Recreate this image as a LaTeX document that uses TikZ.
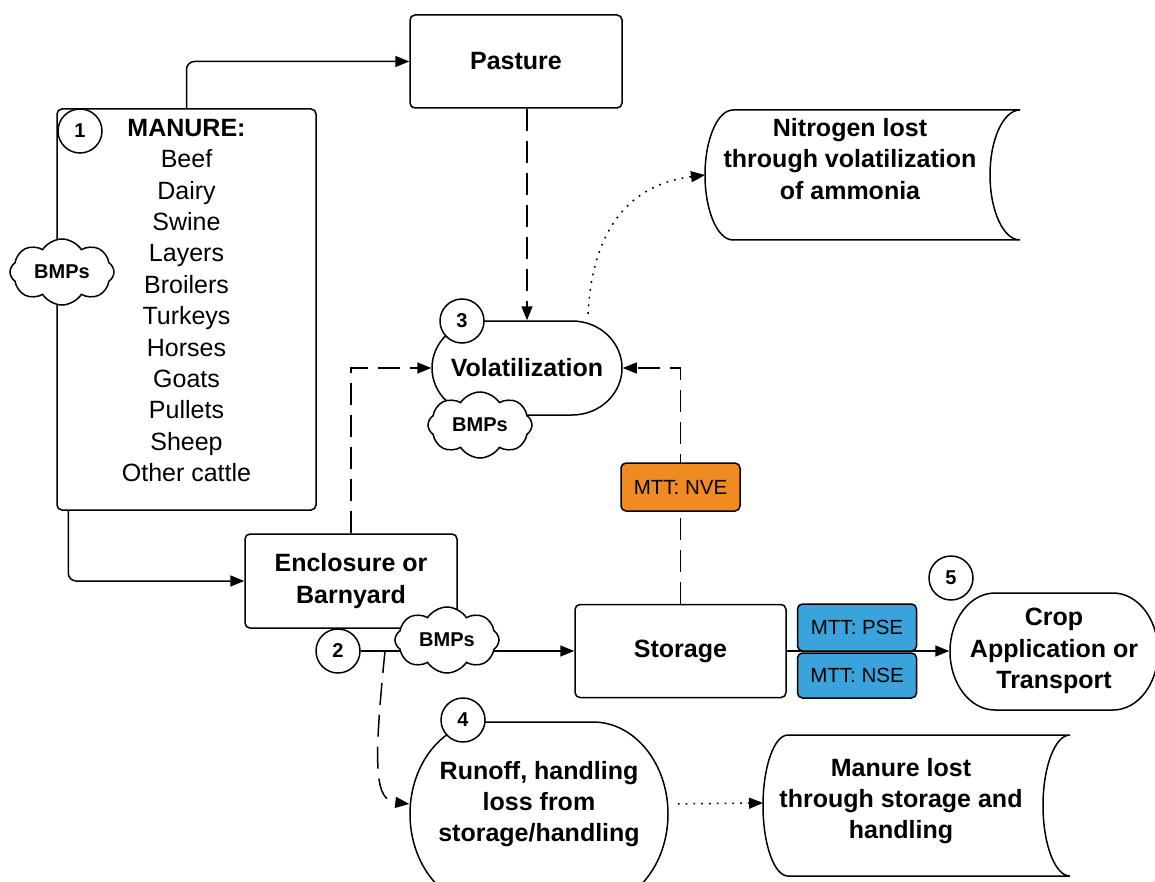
\documentclass[tikz,border=0pt]{standalone}
\usepackage{fontspec}
\setmainfont{Liberation Sans}
\usetikzlibrary{shapes.symbols,arrows.meta,calc,backgrounds}
\definecolor{mttorange}{RGB}{239,139,34}
\definecolor{mttblue}{RGB}{58,163,219}
\begin{document}
\begin{tikzpicture}[x=1pt,y=-1pt, line width=1.5pt,
  box/.style={draw, rounded corners=5pt, font=\bfseries\fontsize{25}{31.4}\selectfont, align=center, inner sep=0},
  lbl/.style={font=\bfseries\fontsize{25}{31.4}\selectfont, align=center, inner sep=0},
  num/.style={draw, circle, fill=white, minimum size=44pt, inner sep=0, font=\bfseries\fontsize{20}{24}\selectfont},
  bmp/.style={draw, cloud, cloud puffs=8, cloud puff arc=115, aspect=1.6, fill=white, inner sep=0, minimum width=104pt, minimum height=66pt, font=\bfseries\fontsize{20}{24}\selectfont},
  mtt/.style={draw, rounded corners=5pt, minimum width=119pt, inner sep=0, font=\fontsize{20.5}{24}\selectfont},
  arr/.style={line width=1.5pt, -{Triangle[length=14pt,width=11pt]}},
  dsh/.style={dash pattern=on 22pt off 10pt},
  dotline/.style={dash pattern=on 1.8pt off 6pt}
]
\useasboundingbox (0,0) rectangle (1155,882);

% boxes
\node[box, minimum width=212pt, minimum height=93pt] (past) at (516,61.5) {Pasture};
\node[box, minimum width=259pt, minimum height=401pt] (man) at (186.5,309.5) {};
\node[font=\fontsize{25}{31.4}\selectfont, align=center, inner sep=0] (list) at (186.5,300.5)
  {\textbf{MANURE:}\\Beef\\Dairy\\Swine\\Layers\\Broilers\\Turkeys\\Horses\\Goats\\Pullets\\Sheep\\Other cattle};
\node[box, minimum width=212pt, minimum height=94pt] (encl) at (351,581) {Enclosure or\\Barnyard};
\node[box, minimum width=211pt, minimum height=93pt] (stor) at (680.5,651) {Storage};

% text nodes of drawn shapes
\node[lbl, minimum width=190pt, minimum height=94pt] (vol) at (527,368) {Volatilization};
\node[lbl] (nit) at (850,159) {Nitrogen lost\\through volatilization\\of ammonia};
\node[lbl, minimum width=208pt, minimum height=117pt] (crop) at (1054,651) {Crop\\Application or\\Transport};
\node[lbl, minimum width=258pt] (run) at (539,804) {Runoff, handling\\loss from\\storage/handling};
\node[lbl] (mlost) at (901,801) {Manure lost\\through storage and\\handling};

% outlines
\draw (482,321) -- (572,321) arc[start angle=-90,end angle=90,x radius=50,y radius=47]
  -- (482,415) arc[start angle=90,end angle=270,x radius=50,y radius=47] -- cycle;
\draw (733,110) -- (1020,110) arc[start angle=270,end angle=90,x radius=30,y radius=65]
  -- (733,240) arc[start angle=90,end angle=270,x radius=28,y radius=65] -- cycle;
\draw (995,593) -- (1113,593) arc[start angle=-90,end angle=90,x radius=45,y radius=58.5]
  -- (995,710) arc[start angle=90,end angle=270,x radius=45,y radius=58.5] -- cycle;
\draw (485,722) -- (593,722) arc[start angle=-90,end angle=90,x radius=75,y radius=92]
  -- (485,906) arc[start angle=90,end angle=270,x radius=75,y radius=92] -- cycle;
\draw (788,735) -- (1070,735) arc[start angle=270,end angle=90,x radius=27,y radius=70.5]
  -- (788,876) arc[start angle=90,end angle=270,x radius=25,y radius=70.5] -- cycle;

% MTT boxes
\node[mtt, fill=mttorange, minimum height=48pt] (nve) at (680.5,487) {MTT: NVE};
\node[mtt, fill=mttblue, minimum height=47pt] (pse) at (857,627.5) {MTT: PSE};
\node[mtt, fill=mttblue, minimum height=45pt] (nse) at (857,675.5) {MTT: NSE};

% numbers and clouds
\node[num] (n1) at (80,131) {1};
\node[num] (n2) at (338,651) {2};
\node[num] (n3) at (462,321) {3};
\node[num] (n4) at (463,720) {4};
\node[num] (n5) at (951,578) {5};
\node[bmp] (b1) at (62,272) {BMPs};
\node[bmp] (b2) at (447,640) {BMPs};
\node[bmp] (b3) at (480,425) {BMPs};

\coordinate (split) at (385,651);
\coordinate (vtop) at (588,314);
\coordinate (nitL) at (705,175);
\coordinate (mlL) at (763,803);

\begin{scope}[on background layer]
\draw[arr, rounded corners=8pt] (man.north) |- (past.west);
\draw[arr, rounded corners=8pt] ($(man.south west)+(12,0)$) |- (encl.west);
\draw[arr, dsh] (past.south -| vol.north) -- (vol.north);
\draw[arr, dsh] (encl.north) |- (vol.west);
\draw[arr, dsh] (stor.north) |- (vol.east);
\draw[arr] (n2.east) -- (stor.west);
\draw[arr, dsh] (split) .. controls (373,770) and (375,800) .. (run.west);
\draw[arr] (stor.east) -- (crop.west);
\draw[arr, dotline] (vtop) .. controls (592,235) and (625,185) .. (nitL);
\draw[arr, dotline, shorten <=9pt] (run.east) -- (mlL);
\end{scope}
\end{tikzpicture}
\end{document}
